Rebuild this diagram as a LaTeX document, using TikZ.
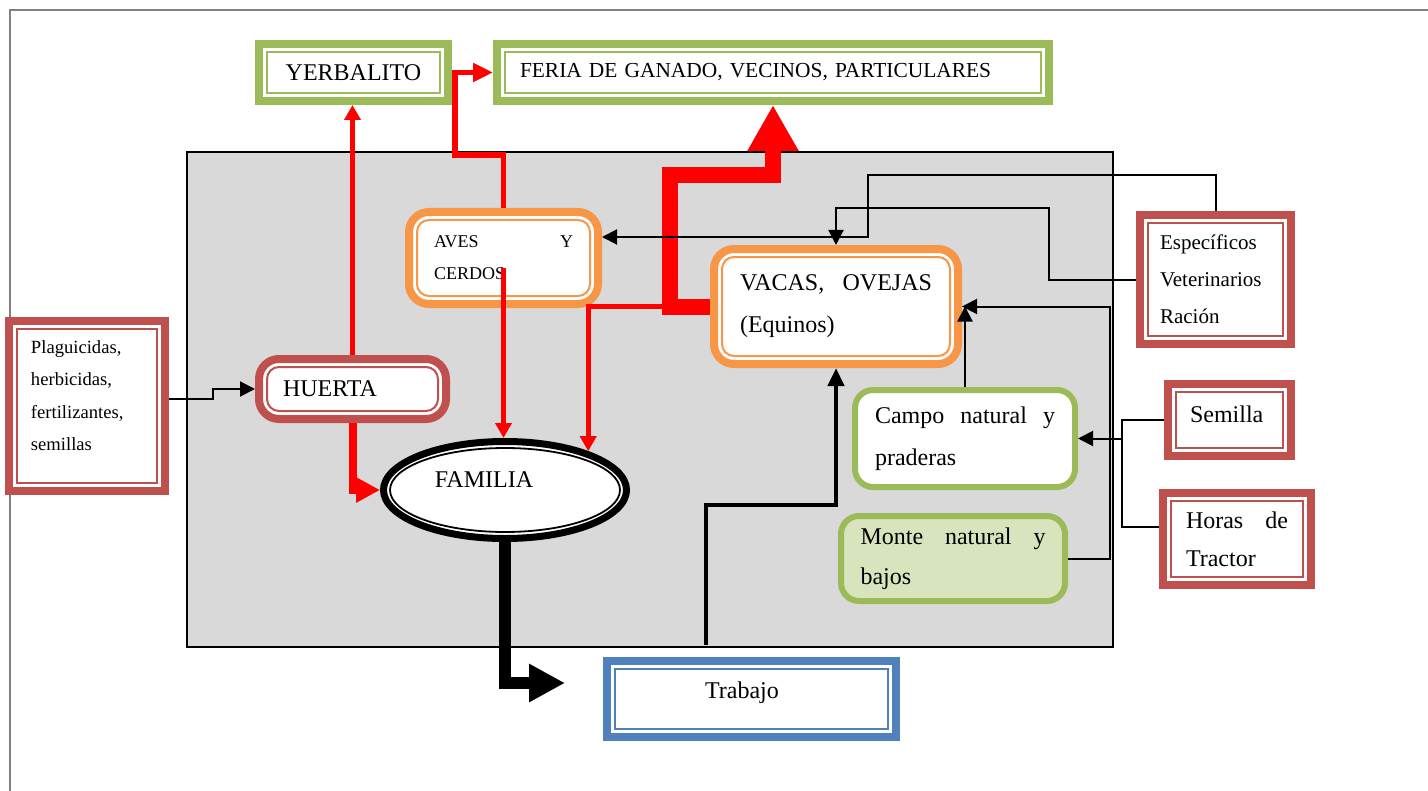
\documentclass[tikz,border=0pt]{standalone}
\usepackage{fontspec}
\setmainfont{Liberation Serif}
\usetikzlibrary{arrows.meta, shapes.geometric}

\definecolor{grn}{HTML}{9BBB59}
\definecolor{ltgrn}{HTML}{D7E4BD}
\definecolor{orng}{HTML}{F79646}
\definecolor{rdbrn}{HTML}{C0504D}
\definecolor{blu}{HTML}{4F81BD}
\definecolor{bgray}{HTML}{D9D9D9}
\definecolor{frame}{HTML}{808080}

\tikzset{
  dblbox/.style={draw=#1, line width=4pt, fill=white, inner sep=0pt,
    path picture={\draw[#1, line width=1pt]
      ([shift={(4pt,-4pt)}]path picture bounding box.north west) rectangle
      ([shift={(-4pt,4pt)}]path picture bounding box.south east);}},
  rdblbox/.style={draw=#1, line width=4pt, rounded corners=10pt, fill=white, inner sep=0pt,
    path picture={\draw[#1, line width=1pt, rounded corners=6pt]
      ([shift={(4pt,-4pt)}]path picture bounding box.north west) rectangle
      ([shift={(-4pt,4pt)}]path picture bounding box.south east);}},
  grnbox/.style={draw=grn, line width=3pt, rounded corners=9pt, fill=#1, inner sep=0pt},
  redthin/.style={draw=red, line width=2.3pt, -{Triangle[length=7.5pt,width=8pt]}},
  redmid/.style={draw=red, line width=2.8pt, -{Triangle[length=10pt,width=9pt]}},
  redhrt/.style={draw=red, line width=4pt, -{Triangle[length=12pt,width=12pt]}},
  redfat/.style={draw=red, line width=8pt, -{Triangle[length=23pt,width=24pt]}},
  blkthin/.style={draw=black, line width=1pt, -{Triangle[length=7.5pt,width=7.5pt]}},
  blkmid/.style={draw=black, line width=2.2pt, -{Triangle[length=9pt,width=8pt]}},
  blkfat/.style={draw=black, line width=6pt, -{Triangle[length=18pt,width=18pt]}},
}

\begin{document}
\begin{tikzpicture}[x=0.5pt, y=-0.5pt]
    \useasboundingbox (0,0) rectangle (1428,791);
    % Background
    \draw[frame, line width=1pt] (10,791) -- (10,10) -- (1428,10);
    \draw[fill=bgray, line width=0.7pt] (187,152) rectangle (1113,647);

    % Draw nodes
    \node[dblbox=grn, minimum width=94.5pt, minimum height=28.5pt,
      font={\fontsize{12pt}{14pt}\selectfont}] (yerb) at (353.5,72.5) {YERBALITO};
    \node[dblbox=grn, text width=253pt, inner xsep=11.5pt, minimum height=28.5pt, align=left,
      font={\fontsize{10.7pt}{13pt}\selectfont}] (feria) at (773,72.5) {FERIA DE GANADO, VECINOS, PARTICULARES};
    \node[rdblbox=orng, text width=69.5pt, inner xsep=12.5pt, minimum height=46pt, align=left,
      font={\fontsize{9pt}{16pt}\selectfont}] (aves) at (503.5,258) {AVES \hfill Y\\CERDOS};
    \node[rdblbox=orng, text width=96pt, inner xsep=13pt, minimum height=57.5pt, align=left,
      font={\fontsize{12pt}{21pt}\selectfont}] (vacas) at (836,306.5) {VACAS, \hfill OVEJAS\\(Equinos)};
    \node[rdblbox=rdbrn, text width=69.5pt, inner xsep=12pt, minimum height=30pt, align=left,
      font={\fontsize{12pt}{14pt}\selectfont}] (huerta) at (352.5,389) {HUERTA};
    \node[dblbox=rdbrn, text width=56pt, inner xsep=11pt, minimum height=85pt, align=left,
      font={\fontsize{9.3pt}{16.25pt}\selectfont}] (plag) at (87,406)
      {Plaguicidas,\\herbicidas,\\fertilizantes,\\semillas\\[-6pt]\mbox{}};
    \node[dblbox=rdbrn, text width=55.5pt, inner xsep=10pt, minimum height=64.5pt, align=left,
      font={\fontsize{10.5pt}{18.5pt}\selectfont}] (espec) at (1215.5,279.5)
      {Específicos\\Veterinarios\\Ración};
    \node[dblbox=rdbrn, text width=39.5pt, inner xsep=11pt, minimum height=36pt, align=left,
      font={\fontsize{12pt}{14pt}\selectfont}] (semilla) at (1229.5,420) {Semilla\\[-8pt]\mbox{}};
    \node[dblbox=rdbrn, text width=51pt, inner xsep=11.5pt, minimum height=46pt, align=left,
      font={\fontsize{12pt}{19pt}\selectfont}] (horas) at (1237,539) {Horas \hfill de\\Tractor};
    \node[grnbox=white, text width=90pt, inner xsep=10pt, minimum height=48.5pt, align=left,
      font={\fontsize{12pt}{21pt}\selectfont}] (campo) at (965,438.5)
      {Campo \hfill natural \hfill y\\praderas};
    \node[grnbox=ltgrn, text width=92.5pt, inner xsep=9.75pt, minimum height=42.5pt, align=left,
      font={\fontsize{12pt}{20pt}\selectfont}] (monte) at (953,558.5)
      {Monte \hfill natural \hfill y\\bajos};
    \node[dblbox=blu, minimum width=144.5pt, minimum height=38pt,
      font={\fontsize{12pt}{14pt}\selectfont}] (trabajo) at (751.5,699)
      {\raisebox{9pt}{Trabajo}\hspace*{9.5pt}};
    \node[ellipse, draw=black, line width=3.5pt, fill=white, inner sep=0pt,
      minimum width=121.5pt, minimum height=48.5pt,
      path picture={\draw[line width=0.9pt] (path picture bounding box.center) ellipse (57.5pt and 21pt);},
      font={\fontsize{12pt}{14pt}\selectfont}] (famil) at (505,490)
      {\raisebox{10pt}{FAMILIA}\hspace*{21pt}};

    \coordinate (trabent) at (565,683);
    \coordinate (trabsal) at (706,645);

    % Draw connections
    \draw[redthin] (huerta.north) -- (huerta.north |- yerb.south);
    \draw[redmid] (aves.north) |- (455,155) |- (feria.west);
    \draw[redthin] ([yshift=-5pt]aves.center) -- (aves.center |- famil.north);
    \draw[redthin] (vacas.west) -| (famil.25);
    \draw[redfat] (vacas.west) -| (670,175) -| (feria.south);
    \draw[redhrt] (huerta.south) |- (famil.west);

    \draw[blkthin] ([yshift=3.5pt]plag.east) -- ++(44,0) |- (huerta.west);
    \draw[blkthin] (espec.north) |- (868,175) -- (868,237) -- ([yshift=10.5pt]aves.east);
    \draw[blkthin] (espec.west) -| (1049,208) -| (vacas.north);
    \draw[blkthin] (monte.east) -| (1110,306.5) -- (vacas.east);
    \draw[blkthin] (campo.north) -- (campo.north |- vacas.east);
    \draw[blkthin] (semilla.west) -| (1122,438.5) -- (campo.east);
    \draw[blkthin, -] ([yshift=6pt]horas.west) -| (1122,438.5);
    \draw[blkfat] (famil.south) |- (trabent);
    \draw[blkmid] (trabsal) -- ++(0,-140) -| (vacas.south);
\end{tikzpicture}
\end{document}
